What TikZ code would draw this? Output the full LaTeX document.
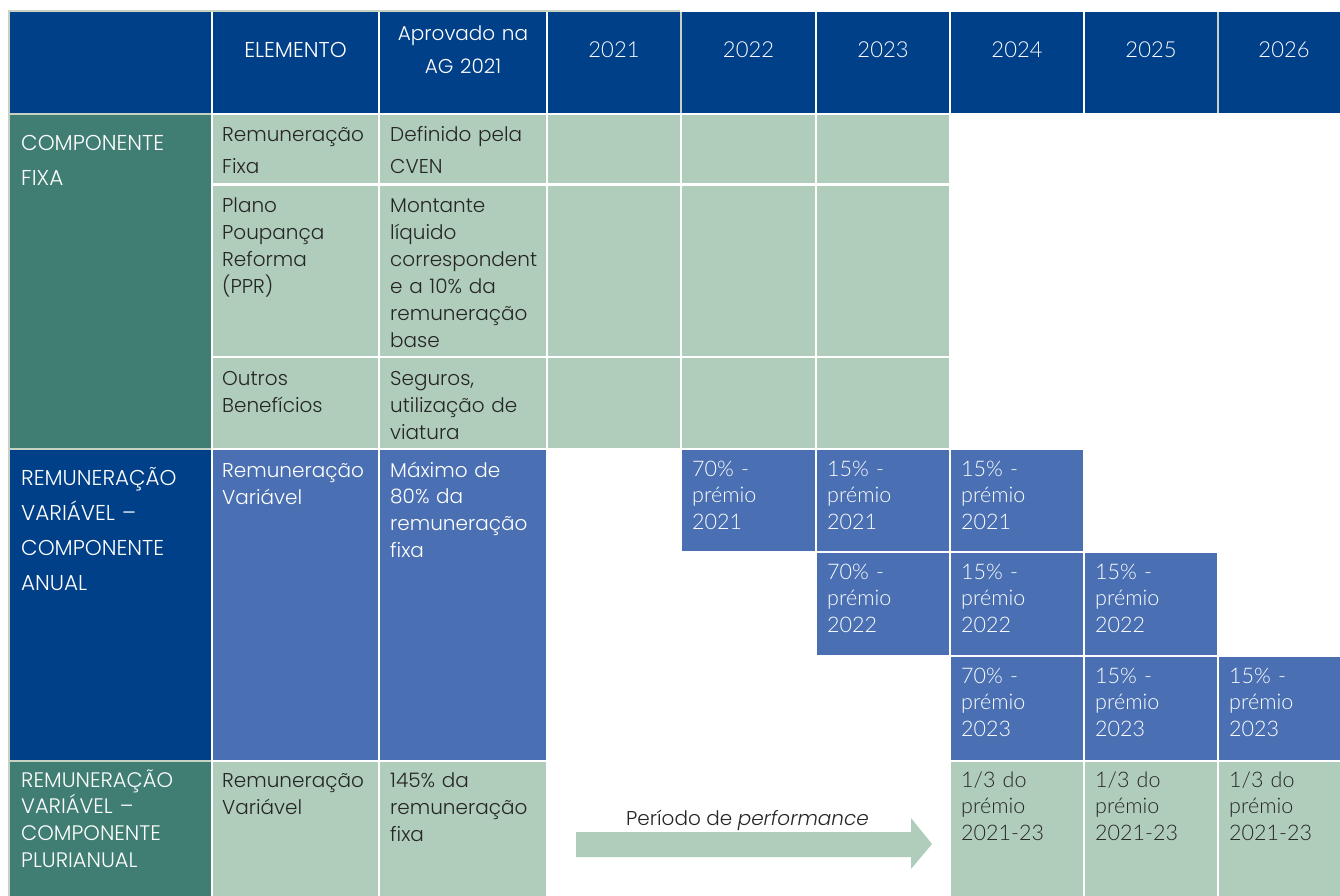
\documentclass[tikz,border=0pt]{standalone}
\usepackage{fontspec}
\IfFontExistsTF{Poppins Light}
  {\setmainfont{Poppins}[UprightFont={* Light},ItalicFont={* Light Italic}]}
  {\setmainfont{Poppins}}
\IfFontExistsTF{Lato Light}
  {\newfontfamily\calfont{Lato Light}}
  {\newfontfamily\calfont{Carlito}}
\definecolor{hdrblue}{HTML}{004088}
\definecolor{midblue}{HTML}{4A70B3}
\definecolor{tealc}{HTML}{407E74}
\definecolor{sage}{HTML}{B0CDBB}
\definecolor{edge}{HTML}{C8D2C4}
\definecolor{ink}{HTML}{262626}

\begin{document}
\begin{tikzpicture}[x=1pt,y=-1pt,
    cell/.style={anchor=base west,inner sep=0pt,text width=150pt,align=left,text=ink,font=\fontsize{20}{27}\selectfont},
    side/.style={cell,text=white,font=\fontsize{21.5}{35}\selectfont},
    box/.style={anchor=base west,inner sep=0pt,text width=110pt,align=left,text=white,font=\calfont\fontsize{21.5}{26.5}\selectfont},
    hd/.style={anchor=base,inner sep=0pt,text=white,font=\fontsize{20}{33}\selectfont},
    yr/.style={anchor=base,inner sep=0pt,text=white,font=\calfont\fontsize{22}{26}\selectfont}]
    \useasboundingbox (0,0) rectangle (1340,896);
    %% frame
    \fill[edge] (8,10) rectangle (211,896);
    \fill[edge] (211,10) rectangle (680,12);
    %% header
    \fill[hdrblue] (10,12) rectangle (211,113);
    \foreach \xl/\xr in {213/378,380/546,548/680,682/815,817/949,951/1083,1085/1217,1219/1340}
        \fill[hdrblue] (\xl,12) rectangle (\xr,113);
    \fill[edge] (680,12) rectangle (682,113);
    \fill[edge] (1217,12) rectangle (1219,113);
    \node[hd,font=\fontsize{21.5}{33}\selectfont] (elem) at (295.5,58) {ELEMENTO};
    \node[hd,text width=160pt,align=center] (aprov) at (463,41) {Aprovado na\\AG 2021};
    \foreach \xc/\yr in {614/2021,748.5/2022,883/2023,1017/2024,1151/2025,1284/2026}
        \node[yr] (y\yr) at (\xc,58) {\yr};
    %% componente fixa
    \fill[tealc] (10,115) rectangle (211,448);
    \foreach \ya/\yb in {115/183,186/356,358/448}
        \foreach \xl/\xr in {213/378,380/546,548/680,682/815,817/949}
            \fill[sage] (\xl,\ya) rectangle (\xr,\yb);
    \node[side] (fixa) at (21,151) {COMPONENTE\\FIXA};
    \node[cell,font=\fontsize{20}{32}\selectfont] (remfixa) at (222,142) {Remuneração\\Fixa};
    \node[cell,font=\fontsize{20}{32}\selectfont] (cven) at (390,142) {Definido pela\\CVEN};
    \node[cell] (ppr) at (222,212) {Plano\\Poupança\\Reforma\\(PPR)};
    \node[cell] (montante) at (390,212) {Montante\\líquido\\correspondent\\e a 10\% da\\remuneração\\base};
    \node[cell] (outros) at (222,385) {Outros\\Benefícios};
    \node[cell] (seguros) at (390,385) {Seguros,\\utilização de\\viatura};
    %% componente anual
    \fill[hdrblue] (10,450) rectangle (211,760);
    \fill[midblue] (213,450) rectangle (378,760);
    \fill[midblue] (380,450) rectangle (546,760);
    \node[side] (anual) at (21,485) {REMUNERAÇÃO\\VARIÁVEL –\\COMPONENTE\\ANUAL};
    \node[cell,text=white] (remvar) at (222,477) {Remuneração\\Variável};
    \node[cell,text=white,font=\fontsize{20}{26.7}\selectfont] (maximo) at (390,477) {Máximo de\\80\% da\\remuneração\\fixa};
    \foreach \xl/\xr/\ya/\yb/\pc/\yr [count=\i] in
        {682/815/450/551/70/2021,817/949/450/551/15/2021,951/1083/450/551/15/2021,
         817/949/553/655/70/2022,951/1083/553/655/15/2022,1085/1217/553/655/15/2022,
         951/1083/657/760/70/2023,1085/1217/657/760/15/2023,1219/1340/657/760/15/2023}
    {
        \fill[midblue] (\xl,\ya) rectangle (\xr,\yb);
        \node[box] (premio\i) at (\xl+10,\ya+26) {\pc\% -\\prémio\\\yr};
    }
    %% componente plurianual
    \fill[tealc] (10,762) rectangle (211,896);
    \foreach \xl/\xr in {213/378,380/546}
        \fill[sage] (\xl,762) rectangle (\xr,896);
    \node[side,font=\fontsize{21}{26.7}\selectfont] (pluri) at (21,787) {REMUNERAÇÃO\\VARIÁVEL –\\COMPONENTE\\PLURIANUAL};
    \node[cell] (remplur) at (222,787) {Remuneração\\Variável};
    \node[cell] (cento) at (390,787) {145\% da\\remuneração\\fixa};
    \foreach \xl/\xr [count=\i] in {951/1083,1085/1217,1219/1340}
    {
        \fill[sage] (\xl,762) rectangle (\xr,896);
        \node[box,text=ink] (terco\i) at (\xl+10,787) {1/3 do\\prémio\\2021-23};
    }
    \fill[sage] (576,832) -- (911,832) -- (911,818) -- (932,844)
        -- (911,869) -- (911,857) -- (576,857) -- cycle;
    \node[anchor=base,inner sep=0pt,text=ink,font=\fontsize{20}{24}\selectfont] (periodo) at (747.5,825) {Período de \textit{performance}};
\end{tikzpicture}
\end{document}
